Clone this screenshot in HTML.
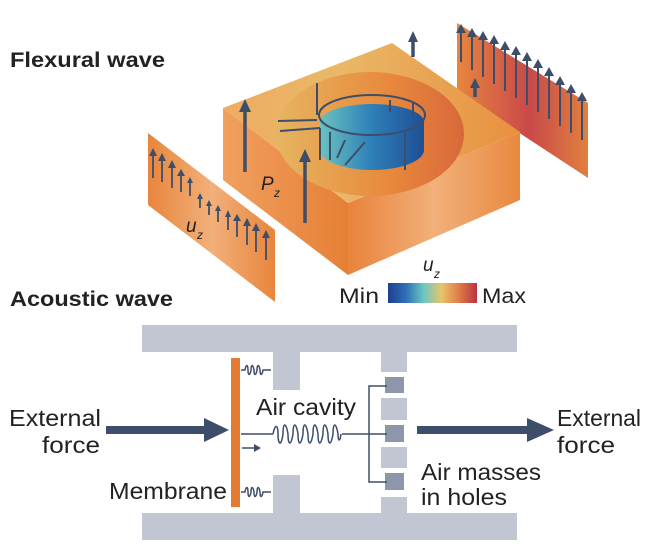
<!DOCTYPE html>
<html><head><meta charset="utf-8"><style>
html,body{margin:0;padding:0;background:#fff;width:650px;height:547px;overflow:hidden}
svg{display:block}
text{font-family:"Liberation Sans",sans-serif}
</style></head><body>
<svg width="650" height="547" viewBox="0 0 650 547" xmlns="http://www.w3.org/2000/svg">
<defs>
<linearGradient id="front" x1="0" y1="0" x2="1" y2="0">
<stop offset="0" stop-color="#e8833a"/><stop offset="0.5" stop-color="#f2b07a"/><stop offset="1" stop-color="#e8893f"/></linearGradient>
<linearGradient id="left" x1="0" y1="0" x2="1" y2="0">
<stop offset="0" stop-color="#f0a060"/><stop offset="1" stop-color="#e67f35"/></linearGradient>
<linearGradient id="top" x1="0" y1="0" x2="1" y2="0">
<stop offset="0" stop-color="#eeac62"/><stop offset="0.4" stop-color="#e9b868"/><stop offset="1" stop-color="#e8903f"/></linearGradient>
<linearGradient id="recess" x1="0" y1="0" x2="1" y2="0">
<stop offset="0" stop-color="#e6b560"/><stop offset="0.6" stop-color="#e8893c"/><stop offset="1" stop-color="#d8683a"/></linearGradient>
<linearGradient id="disk" x1="0" y1="0" x2="1" y2="0">
<stop offset="0" stop-color="#6ac3c0"/><stop offset="0.5" stop-color="#2e7fb8"/><stop offset="1" stop-color="#1e4f95"/></linearGradient>
<linearGradient id="lp" x1="0" y1="0" x2="1" y2="0">
<stop offset="0" stop-color="#e8853d"/><stop offset="0.5" stop-color="#f2b07a"/><stop offset="1" stop-color="#e8853d"/></linearGradient>
<linearGradient id="rp" x1="0" y1="0" x2="1" y2="0">
<stop offset="0" stop-color="#e8853d"/><stop offset="0.55" stop-color="#c9494a"/><stop offset="1" stop-color="#e0803e"/></linearGradient>
<linearGradient id="cb" x1="0" y1="0" x2="1" y2="0">
<stop offset="0" stop-color="#1f3f8f"/><stop offset="0.2" stop-color="#2e6fb5"/><stop offset="0.4" stop-color="#6cc6c4"/><stop offset="0.6" stop-color="#e8c46a"/><stop offset="0.8" stop-color="#e07a48"/><stop offset="1" stop-color="#b83440"/></linearGradient>
</defs>
<text x="10" y="67" font-size="21" font-weight="bold" fill="#222" textLength="155" lengthAdjust="spacingAndGlyphs">Flexural wave</text>
<text x="10" y="306" font-size="21" font-weight="bold" fill="#222" textLength="163" lengthAdjust="spacingAndGlyphs">Acoustic wave</text>

<!-- right panel -->
<polygon points="457,23 588,103 588,178 457,92" fill="url(#rp)"/>
<g stroke="#3d4e6a" stroke-width="2">
<line x1="461" y1="62" x2="461" y2="30"/><line x1="472" y1="70" x2="472" y2="34"/><line x1="483" y1="77" x2="483" y2="37"/><line x1="494" y1="84" x2="494" y2="41"/><line x1="505" y1="91" x2="505" y2="47"/><line x1="516" y1="98" x2="516" y2="52"/><line x1="527" y1="105" x2="527" y2="58"/><line x1="538" y1="112" x2="538" y2="65"/><line x1="549" y1="119" x2="549" y2="73"/><line x1="560" y1="126" x2="560" y2="82"/><line x1="571" y1="133" x2="571" y2="90"/><line x1="582" y1="140" x2="582" y2="98"/>
</g>
<g fill="#3d4e6a">
<path d="M456,33 l5,-9 l5,9z"/><path d="M467,37 l5,-9 l5,9z"/><path d="M478,40 l5,-9 l5,9z"/><path d="M489,44 l5,-9 l5,9z"/><path d="M500,50 l5,-9 l5,9z"/><path d="M511,55 l5,-9 l5,9z"/><path d="M522,61 l5,-9 l5,9z"/><path d="M533,68 l5,-9 l5,9z"/><path d="M544,76 l5,-9 l5,9z"/><path d="M555,85 l5,-9 l5,9z"/><path d="M566,93 l5,-9 l5,9z"/><path d="M577,101 l5,-9 l5,9z"/>
</g>

<!-- box -->
<polygon points="223,108 348,203 348,275 223,180" fill="url(#left)"/>
<polygon points="348,203 520,132 520,200 348,275" fill="url(#front)"/>
<polygon points="223,108 392,43 520,132 348,203" fill="url(#top)"/>
<ellipse cx="370" cy="134" rx="94" ry="62" fill="url(#recess)"/>
<path d="M320,122 L320,150 A52,20 0 0 0 424,150 L424,122 Z" fill="url(#disk)"/>
<ellipse cx="372" cy="122" rx="52" ry="18" fill="url(#disk)"/>
<g stroke="#3d4e6a" stroke-width="2" fill="none">
<ellipse cx="372" cy="115" rx="53" ry="20"/>
<line x1="317" y1="115" x2="317" y2="83"/>
<line x1="317" y1="120" x2="278" y2="121"/>
<line x1="320" y1="128" x2="280" y2="131"/>
<line x1="320" y1="128" x2="320" y2="160"/>
<line x1="330" y1="132" x2="330" y2="160"/>
<line x1="345" y1="140" x2="337" y2="158"/>
<line x1="365" y1="142" x2="345" y2="165"/>
<line x1="390" y1="100" x2="390" y2="112"/>
<line x1="413" y1="103" x2="413" y2="118"/>
<line x1="405" y1="133" x2="405" y2="170"/>
</g>
<g stroke="#3d4e6a" stroke-width="3.5"><line x1="245" y1="172" x2="245" y2="110"/><line x1="305" y1="223" x2="305" y2="160"/><line x1="413" y1="57" x2="413" y2="40"/><line x1="475" y1="97" x2="475" y2="86"/></g>
<g fill="#3d4e6a"><path d="M239,112 l6,-13 l6,13z"/><path d="M299,162 l6,-13 l6,13z"/><path d="M408,42 l5,-11 l5,11z"/><path d="M470,88 l5,-10 l5,10z"/></g>
<text x="261" y="190" font-size="19" font-style="italic" fill="#222">P</text>
<text x="274" y="197" font-size="12" font-style="italic" fill="#222">z</text>

<!-- left panel -->
<polygon points="148,133 275,230 275,302 148,205" fill="url(#lp)"/>
<g stroke="#3d4e6a" stroke-width="1.8">
<line x1="153" y1="178" x2="153" y2="155"/><line x1="162" y1="182" x2="162" y2="160"/><line x1="172" y1="188" x2="172" y2="167"/><line x1="181" y1="192" x2="181" y2="175"/><line x1="190" y1="196" x2="190" y2="182"/><line x1="200" y1="208" x2="200" y2="198"/><line x1="209" y1="215" x2="209" y2="205"/><line x1="218" y1="222" x2="218" y2="210"/><line x1="228" y1="230" x2="228" y2="216"/><line x1="237" y1="237" x2="237" y2="220"/><line x1="247" y1="245" x2="247" y2="225"/><line x1="256" y1="252" x2="256" y2="230"/><line x1="266" y1="260" x2="266" y2="237"/>
</g>
<g fill="#3d4e6a">
<path d="M149,156 l4,-8 l4,8z"/><path d="M158,161 l4,-8 l4,8z"/><path d="M168,168 l4,-8 l4,8z"/><path d="M177,176 l4,-7 l4,7z"/><path d="M187,183 l3,-6 l3,6z"/><path d="M197,199 l3,-6 l3,6z"/><path d="M206,206 l3,-6 l3,6z"/><path d="M215,211 l3,-6 l3,6z"/><path d="M225,217 l3,-7 l3,7z"/><path d="M233,221 l4,-7 l4,7z"/><path d="M243,226 l4,-8 l4,8z"/><path d="M252,231 l4,-8 l4,8z"/><path d="M262,238 l4,-8 l4,8z"/>
</g>
<text x="186" y="232" font-size="19" font-style="italic" fill="#222">u</text>
<text x="197" y="239" font-size="12" font-style="italic" fill="#222">z</text>

<!-- colorbar -->
<rect x="388" y="283" width="89" height="20" fill="url(#cb)"/>
<text x="339" y="303" font-size="21" fill="#222" textLength="40" lengthAdjust="spacingAndGlyphs">Min</text>
<text x="482" y="303" font-size="21" fill="#222" textLength="44" lengthAdjust="spacingAndGlyphs">Max</text>
<text x="423" y="271" font-size="19" font-style="italic" fill="#222">u</text>
<text x="434" y="278" font-size="12" font-style="italic" fill="#222">z</text>

<!-- acoustic -->
<g fill="#c2c6d3">
<rect x="142" y="325" width="375" height="27"/>
<rect x="273" y="352" width="27" height="38"/>
<rect x="381" y="352" width="26" height="20"/>
<rect x="142" y="513" width="375" height="27"/>
<rect x="273" y="475" width="27" height="38"/>
<rect x="381" y="497" width="26" height="16"/>
<rect x="381" y="398" width="26" height="22"/>
<rect x="381" y="447" width="26" height="21"/>
</g>
<g fill="#8d96ab">
<rect x="385" y="377" width="19" height="16"/>
<rect x="385" y="425" width="19" height="17"/>
<rect x="385" y="473" width="19" height="17"/>
</g>
<rect x="231" y="358" width="9" height="149" fill="#e47b32"/>
<g stroke="#3d4e6a" stroke-width="1.5" fill="none">
<path d="M241,434 H273"/>
<path d="M273,434 c2,-10 5,-10 5,0 c0,10 3,14 5,0 c0,-12 3,-12 5,0 c0,12 3,12 5,0 c0,-12 3,-12 5,0 c0,12 3,12 5,0 c0,-12 3,-12 5,0 c0,12 3,12 5,0 c0,-12 3,-12 5,0 c0,12 3,12 5,0 c0,-12 3,-12 5,0 c0,12 3,12 5,0 c0,-12 3,-12 5,0 c0,8 2,8 3,0"/>
<path d="M342,434 H387"/>
<path d="M387,386 H369 V482 H387"/>
<path d="M241,370 h4 c1,-6 3,-6 3,0 c0,6 2,6 3,0 c0,-6 2,-6 3,0 c0,6 2,6 3,0 c0,-6 2,-6 3,0 c0,6 2,6 3,0 h8"/>
<path d="M241,492 h4 c1,-6 3,-6 3,0 c0,6 2,6 3,0 c0,-6 2,-6 3,0 c0,6 2,6 3,0 c0,-6 2,-6 3,0 c0,6 2,6 3,0 h8"/>
<path d="M242,448 H255"/>
</g>
<path d="M254,444 l7,4 l-7,4z" fill="#3d4e6a"/>
<rect x="106" y="426" width="100" height="8" fill="#3d4e6a"/>
<path d="M204,418 L229,430 L204,442 Z" fill="#3d4e6a"/>
<rect x="417" y="426" width="112" height="8" fill="#3d4e6a"/>
<path d="M527,418 L554,430 L527,442 Z" fill="#3d4e6a"/>
<g font-size="23" fill="#222" lengthAdjust="spacingAndGlyphs">
<text x="9" y="426" textLength="92" lengthAdjust="spacingAndGlyphs">External</text>
<text x="42" y="453" textLength="58" lengthAdjust="spacingAndGlyphs">force</text>
<text x="557" y="426" textLength="84" lengthAdjust="spacingAndGlyphs">External</text>
<text x="557" y="453" textLength="58" lengthAdjust="spacingAndGlyphs">force</text>
<text x="256" y="415" textLength="100" lengthAdjust="spacingAndGlyphs">Air cavity</text>
<text x="421" y="480" textLength="120" lengthAdjust="spacingAndGlyphs">Air masses</text>
<text x="421" y="505" textLength="86" lengthAdjust="spacingAndGlyphs">in holes</text>
<text x="109" y="499" textLength="118" lengthAdjust="spacingAndGlyphs">Membrane</text>
</g>
</svg>
</body></html>
